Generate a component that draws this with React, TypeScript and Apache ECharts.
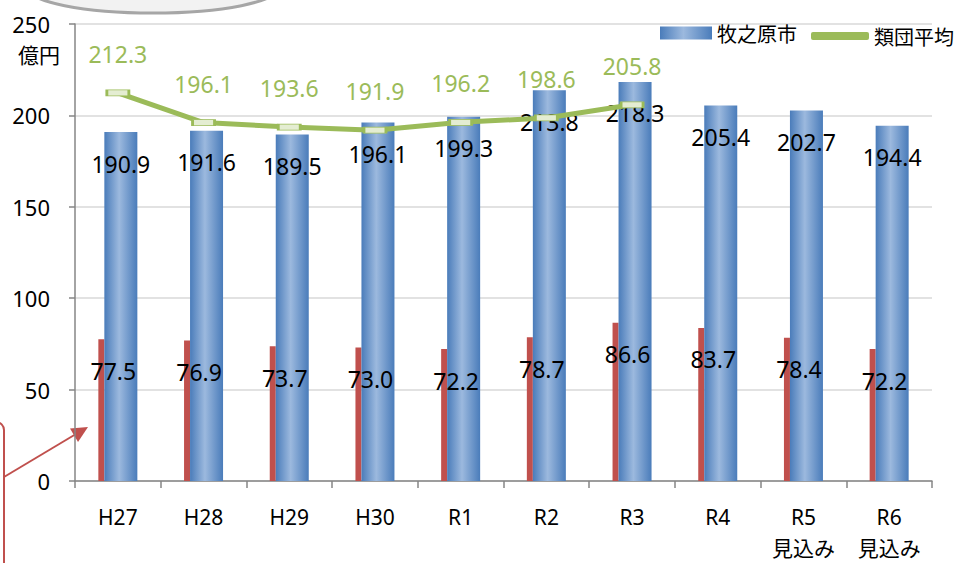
import React, { useEffect, useRef } from "react";
import * as echarts from "echarts";

const categories = ["H27", "H28", "H29", "H30", "R1", "R2", "R3", "R4", "R5\n見込み", "R6\n見込み"];
const cityValues = [190.9, 191.6, 189.5, 196.1, 199.3, 213.8, 218.3, 205.4, 202.7, 194.4];
const redValues = [77.5, 76.9, 73.7, 73.0, 72.2, 78.7, 86.6, 83.7, 78.4, 72.2];
const avgValues: (number | null)[] = [212.3, 196.1, 193.6, 191.9, 196.2, 198.6, 205.8, null, null, null];
const yTicks = { min: 0, max: 250, interval: 50 };

const FONT = "'Noto Sans', 'Noto Sans CJK JP', sans-serif";
const BLUE_GRAD = {
  type: "linear", x: 0, y: 0, x2: 1, y2: 0,
  colorStops: [
    { offset: 0, color: "#4a7cba" },
    { offset: 0.45, color: "#9cb9de" },
    { offset: 1, color: "#4a7cba" },
  ],
};
const GREEN = "#9bbb59";
const RED = "#c0504d";

export default function App() {
  const ref = useRef<HTMLDivElement>(null);
  useEffect(() => {
    if (!ref.current) return;
    const chart = echarts.init(ref.current, null, { renderer: "svg" });
    chart.setOption({
      animation: false,
      textStyle: { fontFamily: FONT },
      grid: { left: 75, right: 23, top: 24, bottom: 77, containLabel: false },
      legend: [
        {
          data: [{ name: "牧之原市", icon: "rect" }],
          left: 655, top: 18, itemWidth: 52, itemHeight: 13, itemGap: 10,
          textStyle: { fontSize: 20, color: "#000", fontFamily: "'Noto Sans CJK JP', sans-serif" },
        },
        {
          data: [{ name: "類団平均", icon: "roundRect", itemStyle: { color: GREEN, borderWidth: 0 } }],
          left: 806, top: 21, itemWidth: 58, itemHeight: 8, itemGap: 10,
          textStyle: { fontSize: 20, color: "#000", fontFamily: "'Noto Sans CJK JP', sans-serif" },
        },
      ],
      xAxis: {
        type: "category",
        data: categories,
        boundaryGap: true,
        axisLine: { lineStyle: { color: "#868686", width: 1.5 } },
        axisTick: { show: true, length: 7, lineStyle: { color: "#868686", width: 1.5 } },
        axisLabel: { fontSize: 21, color: "#000", margin: 20, lineHeight: 31, fontFamily: FONT },
      },
      yAxis: {
        type: "value",
        min: yTicks.min, max: yTicks.max, interval: yTicks.interval,
        axisLine: { show: true, lineStyle: { color: "#868686", width: 1.5 } },
        axisTick: { show: true, length: 6, lineStyle: { color: "#868686", width: 1.5 } },
        axisLabel: { fontSize: 22, color: "#000", margin: 25, fontFamily: FONT },
        splitLine: { lineStyle: { color: "#d9d9d9", width: 1.5 } },
      },
      series: [
        {
          name: "その他",
          type: "bar",
          data: redValues,
          barWidth: 6,
          barGap: "0%",
          itemStyle: { color: RED },
          label: {
            show: true, position: "insideTop", offset: [12, 15],
            fontSize: 23, color: "#000", fontFamily: FONT,
            formatter: (p: any) => p.value.toFixed(1),
          },
          z: 2,
        },
        {
          name: "牧之原市",
          type: "bar",
          data: cityValues,
          barWidth: 33,
          barGap: "0%",
          itemStyle: { color: BLUE_GRAD },
          label: {
            show: true, position: "insideTop", offset: [0, 15],
            fontSize: 23, color: "#000", fontFamily: FONT,
            formatter: (p: any) => p.value.toFixed(1),
          },
          z: 2,
        },
        {
          name: "類団平均",
          type: "line",
          data: avgValues,
          lineStyle: { color: GREEN, width: 5 },
          itemStyle: { color: "#e4edd2", borderColor: GREEN, borderWidth: 1.5 },
          symbol: "rect",
          symbolSize: [22, 6],
          showSymbol: true,
          label: {
            show: true, position: "top", distance: 24,
            fontSize: 23, color: GREEN, fontFamily: FONT,
            formatter: (p: any) => (p.value == null ? "" : p.value.toFixed(1)),
          },
          z: 5,
        },
      ],
      graphic: [
        {
          type: "ellipse",
          shape: { cx: 153, cy: -12, rx: 125, ry: 25 },
          style: { fill: "#f2f2f2", stroke: "#a6a6a6", lineWidth: 3 },
          z: 10,
        },
        {
          type: "text",
          left: 18, top: 43,
          style: { text: "億円", fontSize: 21, fill: "#000", fontFamily: "'Noto Sans CJK JP', sans-serif" },
        },
        {
          type: "rect",
          shape: { x: -300, y: 422, width: 304, height: 400, r: 8 },
          style: { fill: "none", stroke: RED, lineWidth: 2 },
        },
        {
          type: "line",
          shape: { x1: 4, y1: 477, x2: 76, y2: 434 },
          style: { stroke: RED, lineWidth: 2 },
        },
        {
          type: "polygon",
          shape: { points: [[88, 427], [70, 428.5], [78, 442]] },
          style: { fill: RED },
        },
      ],
    });
    return () => chart.dispose();
  }, []);
  return <div ref={ref} style={{ width: 955, height: 563, position: "absolute", left: 0, top: 0 }} />;
}
